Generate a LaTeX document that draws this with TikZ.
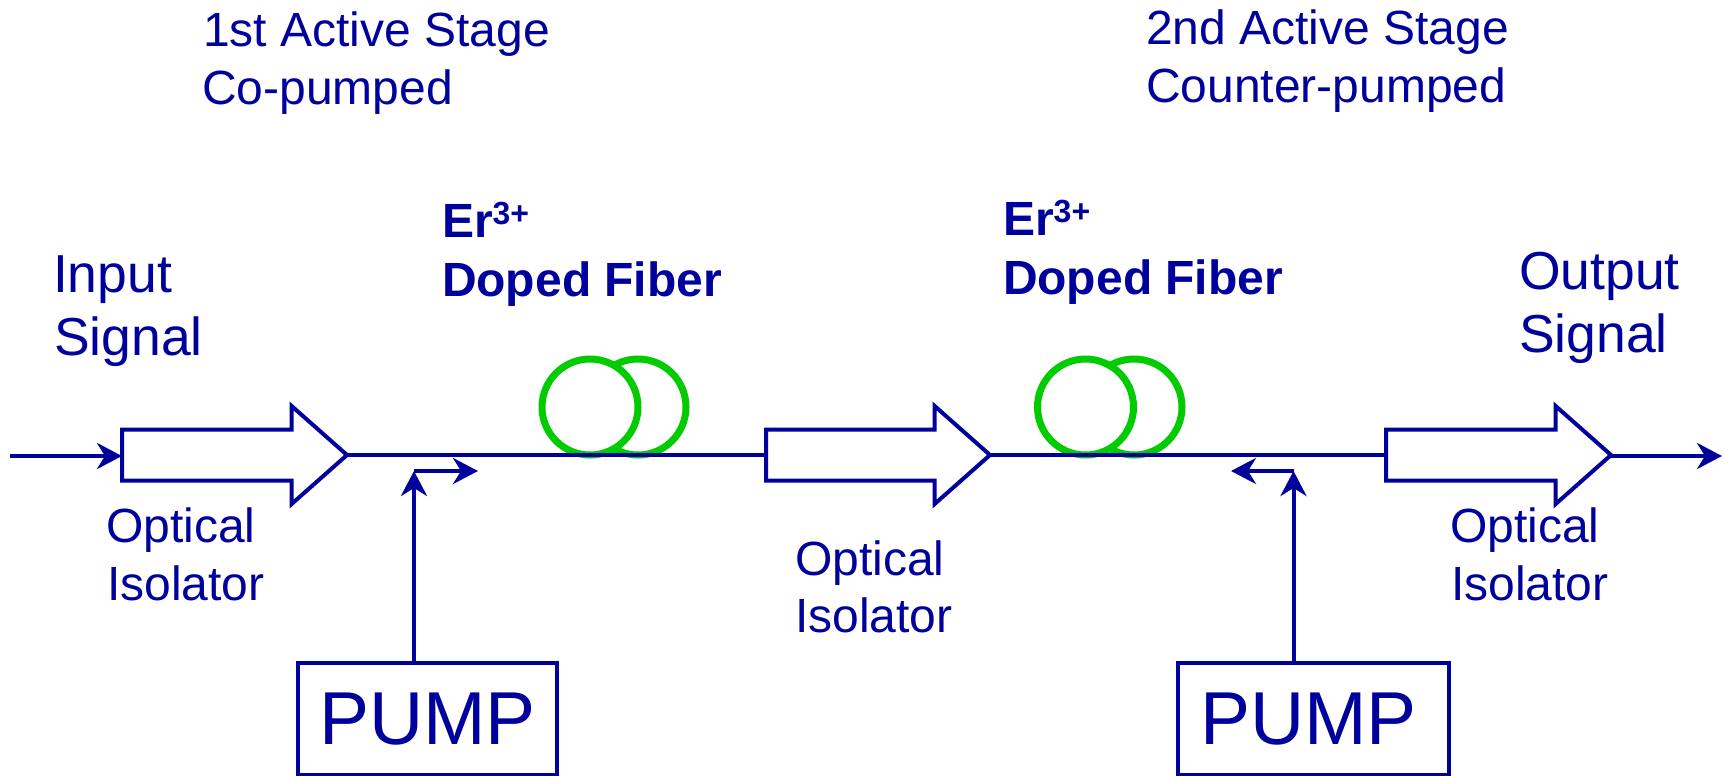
\documentclass[tikz,border=0pt]{standalone}
\usepackage{fontspec}
\setmainfont{Liberation Sans}
\usetikzlibrary{arrows.meta,shapes.arrows,calc}
\definecolor{navy}{HTML}{00009C}
\definecolor{fibergreen}{HTML}{00CC00}
\newcommand{\fs}[1]{\fontsize{#1}{#1}\selectfont}
\newcommand{\sups}{\raisebox{13pt}{\fs{32}\bfseries 3+}}
\tikzset{
  every node/.style={text=navy,inner sep=0pt,outer sep=0pt},
  wire/.style={draw=navy,line width=4pt},
  tipwire/.style={wire,-{Stealth[length=25pt,width=26pt,inset=8pt]}},
  isolator/.style={single arrow,draw=navy,line width=4pt,fill=white,
    inner xsep=0pt,inner ysep=23.5pt,
    minimum width=95pt,single arrow head extend=23.5pt,single arrow tip angle=83,
    anchor=tail,minimum height=225pt},
  pumpbox/.style={draw=navy,line width=4pt,fill=white,font=\fs{75},anchor=north west},
  coil/.style={draw=fibergreen,fill=white,line width=7pt,circle,minimum size=96pt},
  lab/.style={anchor=base west,font=\fs{48}},
  biglab/.style={anchor=base west,font=\fs{53.5}},
  dopelab/.style={anchor=base west,font=\fs{48}\bfseries},
}
\begin{document}
\begin{tikzpicture}[x=1pt,y=-1pt]
\useasboundingbox (0,0) rectangle (1724,776);
% fibre coils
\node[coil] (c1b) at (638,407) {};
\node[coil] (c1a) at (590,407) {};
\node[coil] (c2b) at (1134,407) {};
\node[coil] (c2a) at (1085.5,407) {};
% isolators
\node[isolator] (iso1) at (122,455) {};
\node[isolator,minimum height=224pt] (iso2) at (766,455) {};
\node[isolator] (iso3) at (1386,455) {};
% pumps
\node[pumpbox,minimum width=259pt,minimum height=112pt] (pump1) at (298,663) {\raisebox{-2pt}{PUMP}};
\node[pumpbox,minimum width=271pt,minimum height=112pt] (pump2) at (1178,663) {\raisebox{-2pt}{PUMP}\kern10pt};
% free ends
\coordinate (in) at (10,456);
\coordinate (out) at (1722,456);
\coordinate (j1) at (414,471);
\coordinate (j1e) at (478,471);
\coordinate (j2) at (1293.5,471);
\coordinate (j2e) at (1231,471);
% connectors
\draw[tipwire] (in) -- (in -| iso1.tail);
\draw[wire] (iso1.tip) -- (iso2.tail);
\draw[wire] (iso2.tip) -- (iso3.tail);
\draw[tipwire] (out -| iso3.tip) -- (out);
\draw[tipwire] (j1 |- pump1.north) -- (j1);
\draw[tipwire] (j1) -- (j1e);
\draw[tipwire] (j2 |- pump2.north) -- (j2);
\draw[tipwire] (j2) -- (j2e);
% labels
\node[lab] (s1a) at (203,47) {1st Active Stage};
\node[lab] (s1b) at (202,104.5) {Co-pumped};
\node[lab] (s2a) at (1146,45) {2nd Active Stage};
\node[lab] (s2b) at (1146,102) {Counter-pumped};
\node[dopelab] (e1) at (442,237.5) {Er\sups};
\node[dopelab] (d1) at (442,296) {Doped Fiber};
\node[dopelab] (e2) at (1003,235.5) {Er\sups};
\node[dopelab] (d2) at (1003,294) {Doped Fiber};
\node[biglab] (i1) at (53,292.5) {Input};
\node[biglab] (i2) at (54,355) {Signal};
\node[biglab] (o1) at (1519,289) {Output};
\node[biglab] (o2) at (1519,352) {Signal};
\node[lab] (l1a) at (106,542) {Optical};
\node[lab] (l1b) at (107,600) {Isolator};
\node[lab] (l2a) at (795,575) {Optical};
\node[lab] (l2b) at (795,632) {Isolator};
\node[lab] (l3a) at (1450,542) {Optical};
\node[lab] (l3b) at (1451,600) {Isolator};
\end{tikzpicture}
\end{document}
